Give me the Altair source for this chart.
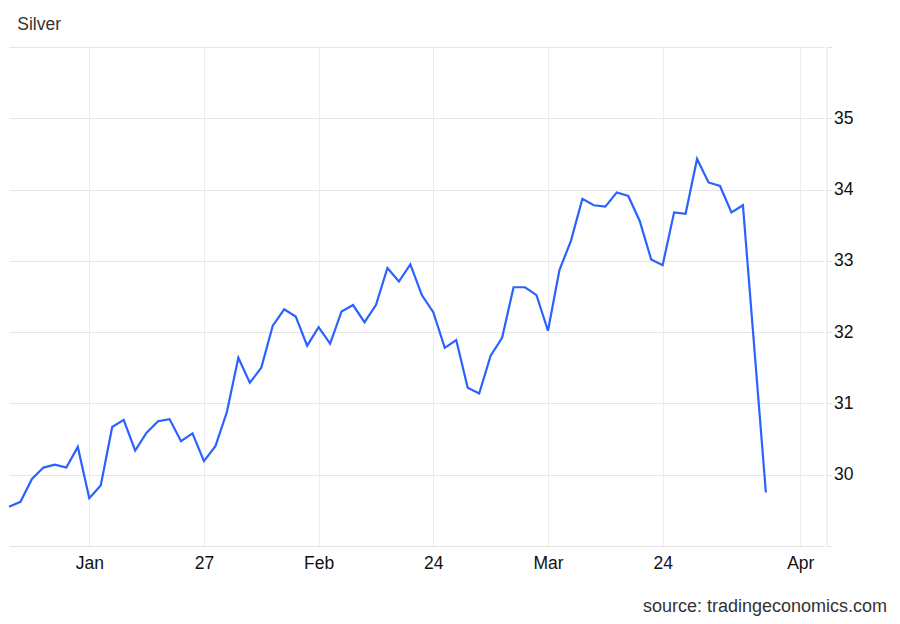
import altair as alt
import pandas as pd
import numpy as np

# trading days (weekdays) from Jan 2 to Apr 2 2025, plus Apr 4 (Apr 3 missing in the source)
trade_dates = [d.strftime("%Y-%m-%d") for d in pd.bdate_range("2025-01-02", "2025-04-02")] + ["2025-04-04"]

prices = [
    29.55, 29.62, 29.94, 30.10, 30.14, 30.10, 30.39, 29.67, 29.85, 30.67,
    30.77, 30.34, 30.59, 30.75, 30.78, 30.47, 30.58, 30.19, 30.40, 30.88,
    31.64, 31.29, 31.50, 32.09, 32.32, 32.22, 31.81, 32.07, 31.84, 32.29,
    32.38, 32.14, 32.38, 32.90, 32.71, 32.95, 32.52, 32.28, 31.78, 31.89,
    31.22, 31.14, 31.67, 31.92, 32.63, 32.63, 32.52, 32.02, 32.87, 33.28,
    33.87, 33.78, 33.76, 33.96, 33.91, 33.56, 33.02, 32.94, 33.68, 33.66,
    34.43, 34.10, 34.05, 33.68, 33.78, 29.75,
]

# ordinal (trading-day) positions of the axis ticks
tick_slots = [7, 17, 27, 37, 47, 57, 69]
tick_labels = ["Jan", "27", "Feb", "24", "Mar", "24", "Apr"]
y_ticks = [29, 30, 31, 32, 33, 34, 35, 36]

slots = [int(np.busday_count("2025-01-02", d)) for d in trade_dates]
df = pd.DataFrame({"date": trade_dates, "slot": slots, "price": prices})

FONT = "Liberation Sans"

label_expr = "[" + ",".join(f"'{t}'" for t in tick_labels) + "][indexof([" + \
    ",".join(str(s) for s in tick_slots) + "], datum.value)]"

line = alt.Chart(df).mark_line(color="#2962ff", strokeWidth=2.2).encode(
    x=alt.X("slot:Q",
            scale=alt.Scale(domain=[0, 71.07], nice=False, zero=False),
            axis=alt.Axis(values=tick_slots, labelExpr=label_expr, title=None,
                          grid=True, gridColor="#e9eef5", gridWidth=1,
                          ticks=False, tickSize=0, domain=True,
                          domainColor="#e3e3e3", labelFont=FONT, labelFontSize=17.5,
                          labelColor="#111", labelBaseline="alphabetic",
                          labelPadding=22.5, labelFlush=False)),
    y=alt.Y("price:Q",
            scale=alt.Scale(domain=[29, 36], nice=False, zero=False),
            axis=alt.Axis(orient="right", values=y_ticks,
                          labelExpr="datum.value >= 30 && datum.value <= 35 ? datum.label : ''",
                          title=None, grid=True, gridColor="#e6e6e6", gridWidth=1,
                          ticks=True, tickSize=5, tickColor="#e3e3e3",
                          domain=True, domainColor="#e3e3e3", offset=2.5,
                          labelFont=FONT, labelFontSize=17.5, labelColor="#111",
                          labelPadding=2)),
)

title_df = pd.DataFrame({"label": ["Silver"]})
title = alt.Chart(title_df).mark_text(
    font=FONT, fontSize=17.5, color="#333", align="left", baseline="alphabetic"
).encode(text="label:N", x=alt.value(8.3), y=alt.value(-17.5))

source_df = pd.DataFrame({"label": ["source: tradingeconomics.com"]})
source = alt.Chart(source_df).mark_text(
    font=FONT, fontSize=18, color="#333", align="right", baseline="alphabetic"
).encode(text="label:N", x=alt.value(878), y=alt.value(564.5))

chart = alt.layer(line, title, source).properties(
    width=815, height=499,
    autosize=alt.AutoSizeParams(type="none"),
    padding={"left": 1, "top": 39, "right": 68, "bottom": 70},
    background="white",
).configure_view(stroke=None)

chart.save("out.html", embed_options={"renderer": "svg", "actions": False})
